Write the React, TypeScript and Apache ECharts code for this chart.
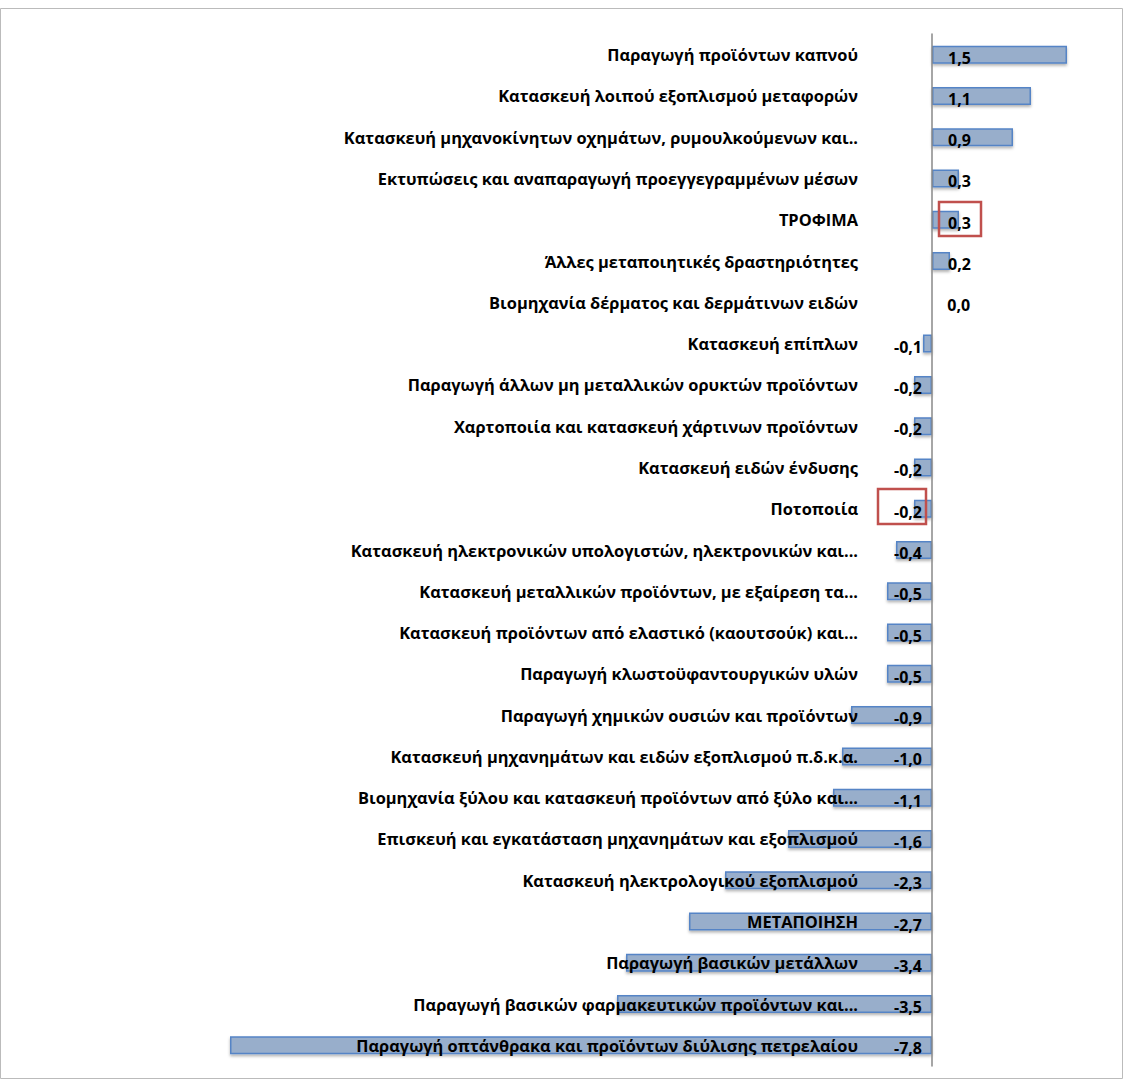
import React, { useEffect, useRef } from "react";
import * as echarts from "echarts";

const categories = [
  "Παραγωγή προϊόντων καπνού",
  "Κατασκευή λοιπού εξοπλισμού μεταφορών",
  "Κατασκευή μηχανοκίνητων οχημάτων, ρυμουλκούμενων και..",
  "Εκτυπώσεις και αναπαραγωγή προεγγεγραμμένων μέσων",
  "ΤΡΟΦΙΜΑ",
  "Άλλες μεταποιητικές δραστηριότητες",
  "Βιομηχανία δέρματος και δερμάτινων ειδών",
  "Κατασκευή επίπλων",
  "Παραγωγή άλλων μη μεταλλικών ορυκτών προϊόντων",
  "Χαρτοποιία και κατασκευή χάρτινων προϊόντων",
  "Κατασκευή ειδών ένδυσης",
  "Ποτοποιία",
  "Κατασκευή ηλεκτρονικών υπολογιστών, ηλεκτρονικών και...",
  "Κατασκευή μεταλλικών προϊόντων, με εξαίρεση τα...",
  "Κατασκευή προϊόντων από ελαστικό (καουτσούκ) και...",
  "Παραγωγή κλωστοϋφαντουργικών υλών",
  "Παραγωγή χημικών ουσιών και προϊόντων",
  "Κατασκευή μηχανημάτων και ειδών εξοπλισμού π.δ.κ.α.",
  "Βιομηχανία ξύλου και κατασκευή προϊόντων από ξύλο και...",
  "Επισκευή και εγκατάσταση μηχανημάτων και εξοπλισμού",
  "Κατασκευή ηλεκτρολογικού εξοπλισμού",
  "ΜΕΤΑΠΟΙΗΣΗ",
  "Παραγωγή βασικών μετάλλων",
  "Παραγωγή βασικών φαρμακευτικών προϊόντων και...",
  "Παραγωγή οπτάνθρακα και προϊόντων διύλισης πετρελαίου",
];
const values = [1.5, 1.1, 0.9, 0.3, 0.3, 0.2, 0.0, -0.1, -0.2, -0.2, -0.2, -0.2, -0.4, -0.5, -0.5, -0.5, -0.9, -1.0, -1.1, -1.6, -2.3, -2.7, -3.4, -3.5, -7.8];

const FONT = "'Open Sans', Lato, sans-serif";

export default function App() {
  const ref = useRef<HTMLDivElement>(null);
  useEffect(() => {
    const chart = echarts.init(ref.current!, undefined, { renderer: "svg" });
    const fmt = (v: number) => v.toFixed(1).replace(".", ",");
    chart.setOption({
      animation: false,
      backgroundColor: "#fff",
      grid: { left: 230, right: 11, top: 34, bottom: 13, containLabel: false, outerBoundsMode: "none" },
      xAxis: { type: "value", min: -7.8, max: 2, show: false },
      yAxis: {
        type: "category",
        inverse: true,
        data: categories,
        axisLine: { show: true, lineStyle: { color: "#888", width: 1.5 } },
        axisTick: { show: false },
        axisLabel: { margin: -628, color: "#000", fontFamily: FONT, fontWeight: "bold", fontSize: 16.4 },
        z: 10,
      },
      series: [
        {
          type: "bar",
          barWidth: 18,
          z: 1,
          data: values.map((v) => ({
            value: v,
            label: v < 0
              ? { position: "insideRight", distance: 10, offset: [0, 3] }
              : { position: "insideLeft", distance: 16, offset: [0, 3] },
          })),
          itemStyle: { color: "#98aecb", borderColor: "#5584c6", borderWidth: 1.5, shadowColor: "rgba(0,0,0,0.3)", shadowBlur: 3, shadowOffsetY: 2 },
          label: {
            show: true,
            formatter: (p: any) => fmt(p.value),
            color: "#000",
            fontFamily: FONT,
            fontWeight: "bold",
            fontSize: 16,
          },
        },
      ],
      graphic: [
        { type: "rect", shape: { x: 0.5, y: 8.5, width: 1122, height: 1070 }, style: { fill: "none", stroke: "#bbb", lineWidth: 1 }, silent: true },
        { type: "rect", shape: { x: 939, y: 202, width: 42, height: 34 }, style: { fill: "none", stroke: "#c0504d", lineWidth: 2.5 }, z: 100 },
        { type: "rect", shape: { x: 878, y: 489, width: 48, height: 35 }, style: { fill: "none", stroke: "#c0504d", lineWidth: 2.5 }, z: 100 },
      ],
    });
    return () => chart.dispose();
  }, []);
  return <div ref={ref} style={{ position: "absolute", left: 0, top: 0, width: 1123, height: 1079 }} />;
}
